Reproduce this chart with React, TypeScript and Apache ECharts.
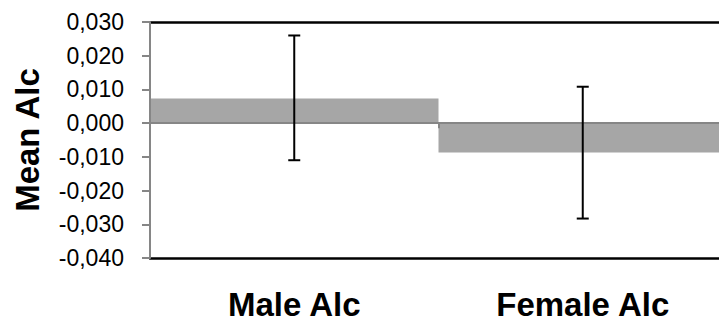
import React, { useEffect, useRef } from "react";
import * as echarts from "echarts";

const categories = ["Male Alc", "Female Alc"];
const means = [0.0073, -0.0087];
const errLow = [-0.011, -0.0283];
const errHigh = [0.026, 0.0108];
const yTicks = { min: -0.04, max: 0.03, interval: 0.01 };

export default function App() {
  const ref = useRef<HTMLDivElement>(null);
  useEffect(() => {
    if (!ref.current) return;
    const chart = echarts.init(ref.current, null, { renderer: "svg" });
    const font = "'Liberation Sans', Arial, sans-serif";
    const errData = categories.map((_, i) => [i, errLow[i], errHigh[i]]);
    chart.setOption({
      animation: false,
      grid: {
        left: 150,
        top: 22,
        width: 577,
        height: 236,
        show: false,
        outerBoundsMode: "none",
        containLabel: false,
      },
      xAxis: [
        {
          type: "category",
          data: categories,
          position: "bottom",
          axisLine: { onZero: true, lineStyle: { color: "#868686", width: 2 } },
          axisTick: { show: true, length: 5, lineStyle: { color: "#868686", width: 2 } },
          axisLabel: { show: false },
          splitLine: { show: false },
          z: 3,
        },
        {
          type: "category",
          data: categories,
          position: "bottom",
          axisLine: { show: true, onZero: false, lineStyle: { color: "#000", width: 2.5 } },
          axisTick: { show: false },
          axisLabel: {
            show: true,
            margin: 30,
            fontFamily: font,
            fontWeight: "bold",
            fontSize: 33,
            color: "#000",
          },
        },
        {
          type: "category",
          data: categories,
          position: "top",
          axisLine: { show: true, onZero: false, lineStyle: { color: "#000", width: 2.5 } },
          axisTick: { show: false },
          axisLabel: { show: false },
        },
      ],
      yAxis: {
        type: "value",
        min: yTicks.min,
        max: yTicks.max,
        interval: yTicks.interval,
        name: "Mean Alc",
        nameLocation: "middle",
        nameRotate: 90,
        nameGap: 106,
        nameTextStyle: { fontFamily: font, fontWeight: "bold", fontSize: 33, color: "#000" },
        axisLine: { show: true, lineStyle: { color: "#868686", width: 2 } },
        axisTick: { show: true, length: 8, lineStyle: { color: "#868686", width: 2 } },
        splitLine: { show: false },
        z: 4,
        axisLabel: {
          margin: 26,
          fontFamily: font,
          fontSize: 23,
          color: "#000",
          formatter: (v: number) => {
            const s = v.toFixed(3).replace(".", ",");
            return s === "-0,000" ? "0,000" : s;
          },
        },
      },
      series: [
        {
          type: "bar",
          xAxisIndex: 0,
          data: means,
          barCategoryGap: "0%",
          itemStyle: { color: "#a6a6a6" },
          z: 1,
        },
        {
          type: "custom",
          xAxisIndex: 0,
          data: errData,
          z: 5,
          renderItem: (params: any, api: any) => {
            const x = api.value(0);
            const lo = api.coord([x, api.value(1)]);
            const hi = api.coord([x, api.value(2)]);
            const cx = lo[0];
            const hw = 6;
            const style = { stroke: "#000", lineWidth: 2 };
            return {
              type: "group",
              children: [
                { type: "line", shape: { x1: cx, y1: lo[1], x2: cx, y2: hi[1] }, style },
                { type: "line", shape: { x1: cx - hw, y1: lo[1], x2: cx + hw, y2: lo[1] }, style },
                { type: "line", shape: { x1: cx - hw, y1: hi[1], x2: cx + hw, y2: hi[1] }, style },
              ],
            };
          },
        },
      ],
    });
    return () => chart.dispose();
  }, []);
  return <div ref={ref} style={{ width: 719, height: 322, position: "absolute", left: 0, top: 0 }} />;
}
